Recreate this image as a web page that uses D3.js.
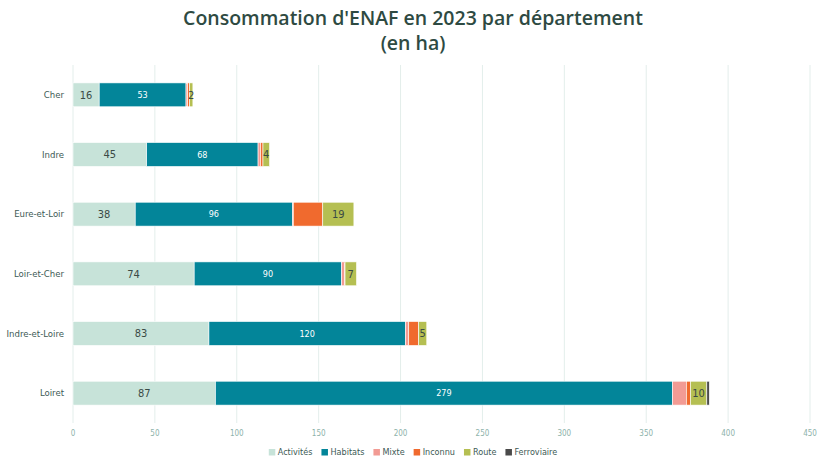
<!DOCTYPE html>
<html>
<head>
<meta charset="utf-8">
<title>Consommation d'ENAF en 2023 par département</title>
<style>
  body { margin: 0; background: #fff; }
  svg { font-family: "DejaVu Sans Condensed", "DejaVu Sans", sans-serif; }
  .title { font-family: "Open Sans", sans-serif; fill: #2e4a42; font-size: 19.5px; font-weight: 600; }
  .grid line { stroke: #e3eeeb; stroke-width: 1; }
  .ylab { fill: #3d5a55; font-size: 9.5px; }
  .xtick { fill: #8db2aa; font-size: 8px; }
</style>
</head>
<body>
<script src="https://cdn.jsdelivr.net/npm/d3@7"></script>
<script>
// departements (top to bottom)
var departements = ["Cher", "Indre", "Eure-et-Loir", "Loir-et-Cher", "Indre-et-Loire", "Loiret"];
var series = ["Activités", "Habitats", "Mixte", "Inconnu", "Route", "Ferroviaire"];
var couleurs = ["#c7e3d9", "#038599", "#f29b94", "#f06a2e", "#b5bf52", "#4a4a4a"];

// values in ha
var activites   = [16, 45, 38, 74, 83, 87];
var habitats    = [53, 68, 96, 90, 120, 279];
var mixte       = [1, 1.5, 0.5, 1.8, 2, 8.5];
var inconnu     = [1.2, 1.5, 18, 0.3, 6, 2.5];
var route       = [2, 4, 19, 7, 5, 10];
var ferroviaire = [0, 0, 0, 0, 0, 1.5];

var xTicks = [0, 50, 100, 150, 200, 250, 300, 350, 400, 450];
var labelled = ["Activités", "Habitats", "Route"];

var W = 826, H = 465;
var plotLeft = 73, plotRight = 810, plotTop = 65, plotBottom = 423;

var table = departements.map(function(d, i) {
  return {
    dep: d,
    "Activités": activites[i], "Habitats": habitats[i], "Mixte": mixte[i],
    "Inconnu": inconnu[i], "Route": route[i], "Ferroviaire": ferroviaire[i]
  };
});

var svg = d3.select("body").append("svg")
  .attr("width", W).attr("height", H);

// title
svg.append("text").attr("class", "title")
  .attr("x", W / 2).attr("y", 25).attr("text-anchor", "middle")
  .text("Consommation d'ENAF en 2023 par département");
svg.append("text").attr("class", "title")
  .attr("x", W / 2).attr("y", 50).attr("text-anchor", "middle")
  .text("(en ha)");

var x = d3.scaleLinear().domain([0, 450]).range([plotLeft, plotRight]);
var y = d3.scaleBand().domain(departements).range([plotTop, plotBottom])
  .paddingInner(0.6).paddingOuter(0.3);
var color = d3.scaleOrdinal().domain(series).range(couleurs);

// gridlines
svg.append("g").attr("class", "grid")
  .selectAll("line").data(xTicks).enter().append("line")
  .attr("x1", function(d) { return x(d); })
  .attr("x2", function(d) { return x(d); })
  .attr("y1", plotTop).attr("y2", plotBottom);

// x tick labels
svg.append("g").selectAll("text").data(xTicks).enter().append("text")
  .attr("class", "xtick")
  .attr("x", function(d) { return x(d); })
  .attr("y", 436)
  .attr("text-anchor", "middle")
  .text(function(d) { return d; });

// y labels
svg.append("g").selectAll("text").data(departements).enter().append("text")
  .attr("class", "ylab")
  .attr("x", 64)
  .attr("y", function(d) { return y(d) + y.bandwidth() / 2; })
  .attr("dy", "0.35em")
  .attr("text-anchor", "end")
  .text(function(d) { return d; });

var stacked = d3.stack().keys(series)(table);

var layers = svg.append("g").selectAll("g").data(stacked).enter().append("g")
  .attr("fill", function(d) { return color(d.key); });

layers.selectAll("rect").data(function(d) { return d; }).enter().append("rect")
  .attr("x", function(d) { return x(d[0]); })
  .attr("y", function(d) { return y(d.data.dep); })
  .attr("width", function(d) { return Math.max(0, x(d[1]) - x(d[0])); })
  .attr("height", y.bandwidth())
  .attr("stroke", "#fff")
  .attr("stroke-width", 0.6);

// segment labels
layers.filter(function(d) { return labelled.indexOf(d.key) >= 0; })
  .selectAll("text").data(function(d) {
    return d.map(function(p) { return { key: d.key, p: p }; });
  }).enter().append("text")
  .attr("x", function(d) { return (x(d.p[0]) + x(d.p[1])) / 2; })
  .attr("y", function(d) { return y(d.p.data.dep) + y.bandwidth() / 2; })
  .attr("dy", "0.35em")
  .attr("text-anchor", "middle")
  .attr("fill", function(d) { return d.key === "Habitats" ? "#ffffff" : "#3a4a45"; })
  .attr("font-size", function(d) { return d.key === "Habitats" ? "9px" : "11px"; })
  .text(function(d) { return d.p.data[d.key]; });

// legend
var legend = svg.append("g");
var items = legend.selectAll("g").data(series).enter().append("g");
items.append("rect").attr("width", 6.5).attr("height", 6.5).attr("y", -6)
  .attr("fill", function(d) { return color(d); });
items.append("text").attr("x", 9).attr("y", 0)
  .attr("font-size", "9px").attr("fill", "#3d5a55")
  .text(function(d) { return d; });
var pos = 0;
items.each(function() {
  var w = this.getBBox().width;
  d3.select(this).attr("transform", "translate(" + pos + ",0)");
  pos += w + 9;
});
legend.attr("transform", "translate(" + (W / 2 - (pos - 9) / 2) + ",455)");
</script>
</body>
</html>
